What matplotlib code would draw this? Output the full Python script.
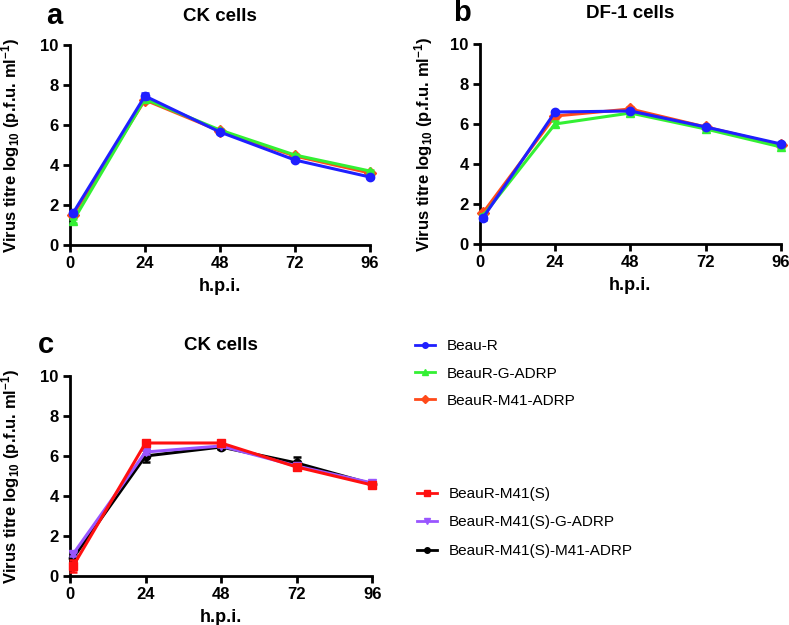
import numpy as np
import matplotlib
matplotlib.use("Agg")
import matplotlib.pyplot as plt
from matplotlib.lines import Line2D

plt.rcParams['font.family'] = ['Liberation Sans', 'DejaVu Sans']
plt.rcParams['mathtext.fontset'] = 'custom'
plt.rcParams['mathtext.bf'] = 'Liberation Sans:bold'
plt.rcParams['mathtext.rm'] = 'Liberation Sans:bold'
plt.rcParams['mathtext.default'] = 'bf'

# time points (h.p.i.)
hpi = [1, 24, 48, 72, 96]
xticks = [0, 24, 48, 72, 96]

# panel a: CK cells
a_beaur = [1.6, 7.45, 5.65, 4.25, 3.4]
a_beaur_err = [0.1, 0.15, 0.05, 0.05, 0.05]
a_g_adrp = [1.2, 7.3, 5.75, 4.5, 3.7]
a_g_adrp_err = [0.1, 0.1, 0.05, 0.05, 0.05]
a_m41_adrp = [1.5, 7.25, 5.7, 4.45, 3.6]
a_m41_adrp_err = [0.1, 0.1, 0.05, 0.05, 0.05]

# panel b: DF-1 cells
b_beaur = [1.3, 6.6, 6.65, 5.85, 5.0]
b_beaur_err = [0.08, 0.05, 0.05, 0.05, 0.05]
b_g_adrp = [1.4, 6.0, 6.55, 5.75, 4.85]
b_g_adrp_err = [0.08, 0.15, 0.08, 0.05, 0.05]
b_m41_adrp = [1.55, 6.4, 6.75, 5.85, 4.95]
b_m41_adrp_err = [0.1, 0.1, 0.08, 0.05, 0.05]

# panel c: CK cells
c_m41s = [0.5, 6.65, 6.65, 5.45, 4.55]
c_m41s_err = [0.3, 0.15, 0.08, 0.15, 0.12]
c_m41s_g = [1.1, 6.2, 6.5, 5.5, 4.65]
c_m41s_g_err = [0.1, 0.1, 0.05, 0.1, 0.08]
c_m41s_m41 = [0.9, 6.0, 6.45, 5.65, 4.6]
c_m41s_m41_err = [0.1, 0.3, 0.12, 0.3, 0.08]

labels_top = ['Beau-R', 'BeauR-G-ADRP', 'BeauR-M41-ADRP']
labels_bottom = ['BeauR-M41(S)', 'BeauR-M41(S)-G-ADRP', 'BeauR-M41(S)-M41-ADRP']

BLUE = '#1f1fff'
GREEN = '#33f033'
ORANGE = '#ff4a1a'
RED = '#ff1010'
PURPLE = '#9955ff'
BLACK = '#000000'


def plot_series(ax, y, err, color, marker, z):
    ax.errorbar(hpi, y, yerr=err, color=color, marker=marker, ms=6,
                lw=2.2, elinewidth=1.8, capsize=3, capthick=1.8, zorder=z)
    return Line2D([], [], color=color, marker=marker, ms=4, lw=2)


def style_axes(ax, title, pad, ylab_x):
    ax.set_xlim(0, 96)
    ax.set_ylim(0, 10)
    ax.set_xticks(xticks)
    ax.set_yticks(range(0, 11, 2))
    ax.spines['top'].set_visible(False)
    ax.spines['right'].set_visible(False)
    for s in ['left', 'bottom']:
        ax.spines[s].set_linewidth(2)
    ax.tick_params(width=2, length=5, labelsize=12, pad=3)
    for lab in ax.get_xticklabels() + ax.get_yticklabels():
        lab.set_fontweight('bold')
    ax.set_xlabel('h.p.i.', fontsize=13, fontweight='bold', labelpad=5)
    ax.set_ylabel(r'Virus titre log$_{10}$ (p.f.u. ml$^{-1}$)',
                  fontsize=12, fontweight='bold')
    ax.yaxis.set_label_coords(ylab_x, 0.5)
    ax.set_title(title, fontsize=13.5, fontweight='bold', pad=pad)
    for art in ax.get_children():
        try:
            art.set_clip_on(False)
        except Exception:
            pass


fig = plt.figure(figsize=(7.89, 6.25), dpi=100)

ax_a = fig.add_axes([0.0887, 0.608, 0.380, 0.32])
ax_b = fig.add_axes([0.608, 0.6096, 0.382, 0.32])
ax_c = fig.add_axes([0.0887, 0.0784, 0.383, 0.32])

h1 = plot_series(ax_a, a_m41_adrp, a_m41_adrp_err, ORANGE, 'D', 3)
h2 = plot_series(ax_a, a_g_adrp, a_g_adrp_err, GREEN, '^', 4)
h3 = plot_series(ax_a, a_beaur, a_beaur_err, BLUE, 'o', 5)
style_axes(ax_a, 'CK cells', 17, -0.16)

plot_series(ax_b, b_m41_adrp, b_m41_adrp_err, ORANGE, 'D', 3)
plot_series(ax_b, b_g_adrp, b_g_adrp_err, GREEN, '^', 4)
plot_series(ax_b, b_beaur, b_beaur_err, BLUE, 'o', 5)
style_axes(ax_b, 'DF-1 cells', 19, -0.15)

k3 = plot_series(ax_c, c_m41s_m41, c_m41s_m41_err, BLACK, 'o', 3)
k2 = plot_series(ax_c, c_m41s_g, c_m41s_g_err, PURPLE, 'v', 4)
k1 = plot_series(ax_c, c_m41s, c_m41s_err, RED, 's', 5)
style_axes(ax_c, 'CK cells', 19, -0.16)

# panel letters
for letter, px, py in [('a', 54, 16), ('b', 462, 13), ('c', 46, 345)]:
    fig.text(px / 789, 1 - py / 625, letter, fontsize=21, fontweight='bold',
             ha='center', va='center')

leg_kw = dict(loc='upper left', frameon=False, fontsize=11,
              handlelength=1.3, handletextpad=0.75,
              borderaxespad=0, borderpad=0)
fig.legend([h3, h2, h1], labels_top, bbox_to_anchor=(0.526, 0.457),
           labelspacing=0.86, **leg_kw)
fig.legend([k1, k2, k3], labels_bottom, bbox_to_anchor=(0.529, 0.221),
           labelspacing=0.95, **leg_kw)

fig.savefig('out.png', dpi=100)
